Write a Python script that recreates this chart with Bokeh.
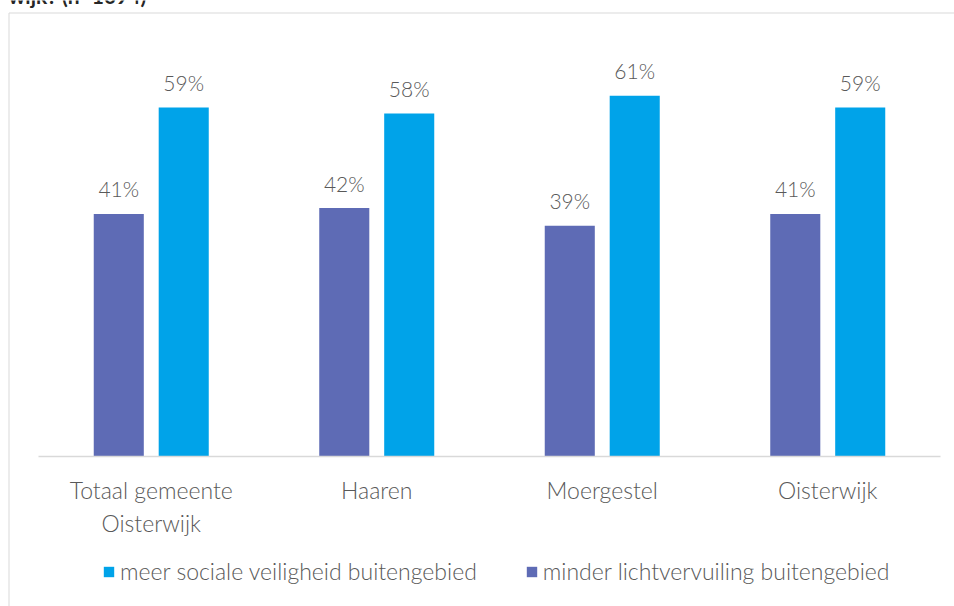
from bokeh.plotting import figure
from bokeh.models import (Range1d, ColumnDataSource, Legend, LegendItem, LinearAxis,
                          FixedTicker, Label)
from bokeh.core.properties import value
from bokeh.embed import file_html
from bokeh.resources import INLINE

categories = ["Totaal gemeente\nOisterwijk", "Haaren", "Moergestel", "Oisterwijk"]
lichtvervuiling = [41, 42, 39, 41]
veiligheid = [59, 58, 61, 59]
series_names = ["meer sociale veiligheid buitengebied", "minder lichtvervuiling buitengebied"]
title_text = "wijk? (n=1094)"

FONT = "Lato Light"
TXT = "#595959"
PURPLE = "#5E6BB5"
BLUE = "#00A3E9"
BORDER = "#D9D9D9"

W, H = 954, 606
FL, FR, FT, FB = 7, 954, 0, 606          # frame edges in canvas pixels
CAT_PX = 225.5                           # pixels per category
X0_PX = 150.75                           # pixel of first category centre
PCT_PX = 5.915                           # pixels per percent
BASE_PX = 456                            # pixel of the value axis zero

xs = -(X0_PX - FL) / CAT_PX
xe = xs + (FR - FL) / CAT_PX
ye = (BASE_PX - FT) / PCT_PX
ys = -(FB - BASE_PX) / PCT_PX


def xd(px):
    return xs + (px - FL) / CAT_PX


def yd(py):
    return (BASE_PX - py) / PCT_PX


idx = list(range(len(categories)))
OFF = 0.144
BW = 0.222

src = ColumnDataSource(dict(
    xl=[i - OFF for i in idx],
    xr=[i + OFF for i in idx],
    licht=lichtvervuiling,
    veilig=veiligheid,
    licht_lbl=[f"{v}%" for v in lichtvervuiling],
    veilig_lbl=[f"{v}%" for v in veiligheid],
))

p = figure(x_range=Range1d(xs, xe), y_range=Range1d(ys, ye),
           width=W, height=H, output_backend="svg", toolbar_location=None,
           x_axis_type=None, y_axis_type=None,
           min_border_left=FL, min_border_right=W - FR, min_border_top=FT,
           min_border_bottom=H - FB)
p.outline_line_color = None
p.xgrid.visible = False
p.ygrid.visible = False
p.background_fill_color = "white"
p.border_fill_color = "white"

# frame border (left and top only)
p.segment(x0=[xd(8.5), xd(8.5)], y0=[yd(12.5), yd(12.5)],
          x1=[xd(8.5), xd(FR)], y1=[yd(FB), yd(12.5)],
          line_color=BORDER, line_width=1)

r1 = p.vbar(x="xl", top="licht", bottom=0, width=BW, source=src,
            fill_color=PURPLE, line_color=None)
r2 = p.vbar(x="xr", top="veilig", bottom=0, width=BW, source=src,
            fill_color=BLUE, line_color=None)

for xcol, col in (("xl", "licht"), ("xr", "veilig")):
    p.text(x=xcol, y=col, text=col + "_lbl", source=src,
           text_align="center", text_baseline="alphabetic", y_offset=-25,
           text_font=value(FONT), text_font_size="21px", text_color=TXT)

xa = LinearAxis(fixed_location=0, ticker=FixedTicker(ticks=idx),
                major_label_overrides={i: c for i, c in zip(idx, categories)},
                bounds=(-0.5, len(categories) - 0.5))
xa.axis_line_color = BORDER
xa.axis_line_width = 1.5
xa.major_tick_line_color = None
xa.minor_tick_line_color = None
xa.major_label_text_font = FONT
xa.major_label_text_font_size = "23px"
xa.major_label_text_color = TXT
xa.major_label_standoff = 13
p.add_layout(xa, "below")

legend = Legend(items=[LegendItem(label=series_names[0], renderers=[r2]),
                       LegendItem(label=series_names[1], renderers=[r1])],
                orientation="horizontal", location=(95, 21),
                border_line_color=None, background_fill_color=None,
                label_text_font=FONT, label_text_font_size="23px", label_text_color=TXT,
                glyph_width=13, glyph_height=13, spacing=48, label_standoff=5,
                padding=0, margin=0)
p.add_layout(legend)

p.add_layout(Label(x=xd(8), y=yd(-5), text=title_text, text_font="Lato",
                   text_font_style="bold", text_font_size="21px", text_color="#262626",
                   text_baseline="alphabetic"))

open("out.html", "w").write(file_html(p, INLINE))
